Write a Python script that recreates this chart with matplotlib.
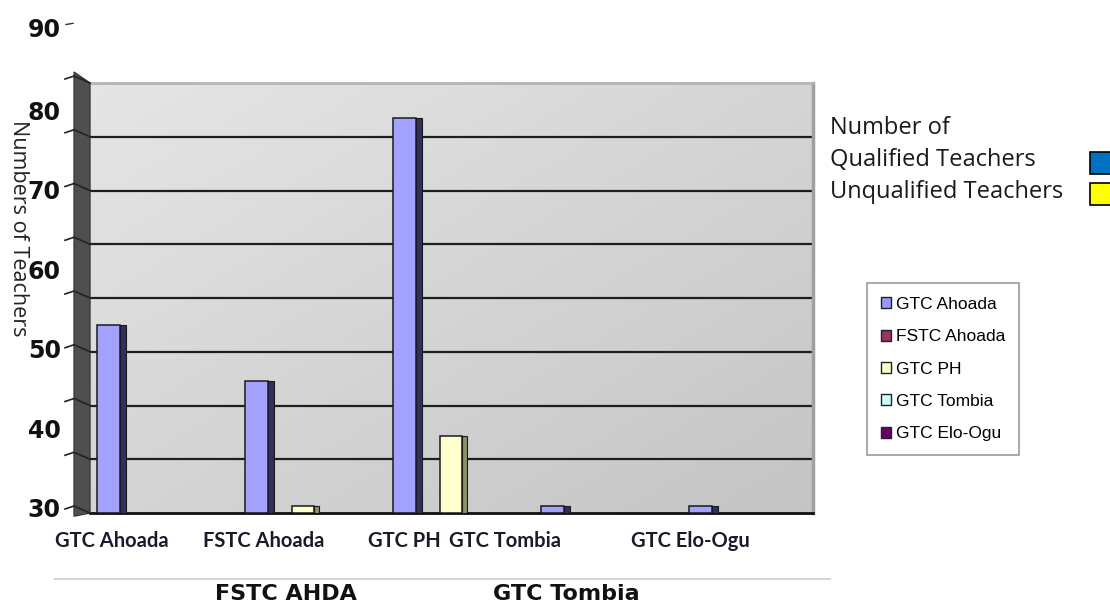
import numpy as np
import matplotlib.pyplot as plt
from matplotlib.patches import Patch, Rectangle, Polygon
from matplotlib.lines import Line2D

# data
categories = ["GTC Ahoada", "FSTC Ahoada", "GTC PH", "GTC Tombia", "GTC Elo-Ogu"]
qualified = [53, 46, 79, 30.2, 30.2]
unqualified = [np.nan, 30.2, 39, np.nan, np.nan]
y_ticks = [30, 40, 50, 60, 70, 80]
top_label = 90
legend_labels = ["GTC Ahoada", "FSTC Ahoada", "GTC PH", "GTC Tombia", "GTC Elo-Ogu"]
legend_colors = ["#9999ff", "#993366", "#ffffcc", "#ccffff", "#660066"]
group_labels = ["FSTC AHDA", "GTC Tombia"]
side_text = ["Number of", "Qualified Teachers", "Unqualified Teachers"]
side_colors = ["#0070c0", "#ffff00"]

W, H = 1110, 604
fx = lambda px: px / W
fy = lambda py: 1 - py / H

fig = plt.figure(figsize=(W / 100, H / 100), dpi=100)
ax = fig.add_axes([fx(90), fy(513), (813 - 90) / W, (513 - 83) / H])
ylo, yhi = 29.37, 83.4
xlo, xhi = -0.125, 4.76
ax.set_xlim(xlo, xhi)
ax.set_ylim(ylo, yhi)

# back wall gradient
n = 200
Z = (np.arange(n)[:, None] + np.arange(n)[None, :]) / (2 * n)
val = 0.90 - 0.13 * Z
rgb = np.dstack([val, val, val])
ax.imshow(rgb, extent=(xlo, xhi, ylo, yhi), aspect="auto", origin="upper", zorder=0)

grid = np.linspace(ylo, yhi, 9)
for g in grid[1:-1]:
    ax.axhline(g, color="#1e1e1e", lw=1.6, zorder=1)

# left side wall + tick marks
tr = ax.get_yaxis_transform()
wall = Polygon([(-0.0221, yhi + 1.38), (0, yhi), (0, ylo), (-0.0221, ylo - 0.4)],
               closed=True, transform=tr, clip_on=False, fc="#4f4f4f", ec="#3c3c3c", zorder=4)
ax.add_patch(wall)
for g in grid:
    ax.plot([-0.0346, -0.0221, 0], [g + 0.5, g + 0.88, g], transform=tr,
            color="#222222", lw=1.2, clip_on=False, zorder=5)

# bars
x = np.arange(len(categories))
w = 0.155
q = np.array(qualified, float)
u = np.array(unqualified, float)
ax.bar(x + w / 2 + 0.02, q - ylo, bottom=ylo, width=0.045, color="#30305c",
       edgecolor="#1a1a1a", lw=0.8, zorder=2.9)
ax.bar(x, q - ylo, bottom=ylo, width=w, color="#a3a3ff", edgecolor="#1a1a1a", lw=1.1, zorder=3)
m = ~np.isnan(u)
ax.bar(x[m] + 0.314 + w / 2 + 0.015, u[m] - ylo, bottom=ylo, width=0.03, color="#8f8f6a",
       edgecolor="#1a1a1a", lw=0.8, zorder=2.9)
ax.bar(x[m] + 0.314, u[m] - ylo, bottom=ylo, width=w, color="#ffffcc", edgecolor="#1a1a1a",
       lw=1.1, zorder=3)

# axes styling
ax.spines["left"].set_visible(False)
ax.spines["top"].set_color("#b4b4b4")
ax.spines["top"].set_linewidth(2)
ax.spines["right"].set_color("#a0a0a0")
ax.spines["right"].set_linewidth(2.5)
ax.spines["bottom"].set_color("#111111")
ax.spines["bottom"].set_linewidth(2)

ax.set_yticks(y_ticks)
ax.set_yticklabels([str(t) for t in y_ticks], fontsize=17, fontweight="bold", color="#111111")
ax.tick_params(axis="y", length=0, pad=21)
ax.text(-0.0401, top_label, str(top_label), transform=tr, ha="right", va="center",
        fontsize=17, fontweight="bold", color="#111111", clip_on=False)
ax.plot([-0.0332, -0.0235], [top_label + 0.75, top_label + 0.9], transform=tr,
        color="#333333", lw=1, clip_on=False)

label_pos = [0.024, 1.05, 2.0, 2.68, 3.93]
ax.set_xticks(label_pos)
ax.set_xticklabels(categories, fontsize=14.5, fontweight="bold", family="Lato", color="#1a1a2a")
ax.tick_params(axis="x", length=0, pad=13)

fig.text(fx(18), fy(228), "Numbers of Teachers", rotation=-90, ha="center", va="center",
         fontsize=15.5, family="Open Sans", color="#222222")

# right-hand notes
for i, t in enumerate(side_text):
    fig.text(fx(830), fy(128 + 32 * i), t, ha="left", va="center", fontsize=17,
             family="Open Sans", color="#1a1a1a")
for i, c in enumerate(side_colors):
    fig.add_artist(Rectangle((fx(1090), fy(174 + 31 * i)), 30 / W, 22 / H, transform=fig.transFigure,
                             fc=c, ec="black", lw=1.2))

handles = [Patch(facecolor=c, edgecolor="#222222", lw=1) for c in legend_colors]
leg = fig.legend(handles, legend_labels, loc="upper left", bbox_to_anchor=(fx(867), fy(283)),
                 frameon=True, fancybox=False, edgecolor="#808080", borderaxespad=0,
                 handlelength=0.6, handleheight=0.6, handletextpad=0.25, labelspacing=1.0,
                 borderpad=0.8, prop={"family": "Liberation Sans", "size": 12.5})
leg.get_frame().set_linewidth(1.2)

fig.add_artist(Line2D([fx(55), fx(830)], [fy(579), fy(579)], color="#d4d4d4", lw=1.5))
for t, px in zip(group_labels, [286, 566]):
    fig.text(fx(px), fy(594), t, ha="center", va="center", fontsize=16, fontweight="bold",
             color="#111111")

plt.savefig("out.png", dpi=100)
